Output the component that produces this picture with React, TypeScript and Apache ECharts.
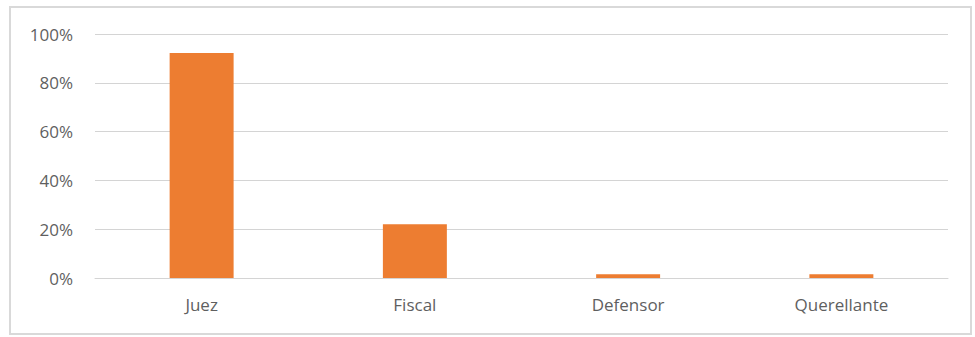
import React, { useEffect, useRef } from "react";
import * as echarts from "echarts";

const categories = ["Juez", "Fiscal", "Defensor", "Querellante"];
const values = [92.2, 22, 1.5, 1.5];
const yTicks = [0, 20, 40, 60, 80, 100];

export default function App() {
  const ref = useRef<HTMLDivElement>(null);
  useEffect(() => {
    if (!ref.current) return;
    const chart = echarts.init(ref.current, null, { renderer: "svg" });
    chart.setOption({
      animation: false,
      backgroundColor: "#ffffff",
      graphic: [
        {
          type: "rect",
          shape: { x: 10, y: 7, width: 961, height: 327 },
          style: { fill: "none", stroke: "#d9d9d9", lineWidth: 2 },
          silent: true,
        },
      ],
      grid: { left: 95, right: 27, top: 34, bottom: 59, containLabel: false },
      xAxis: {
        type: "category",
        data: categories,
        axisLine: { show: true, lineStyle: { color: "#d4d4d4", width: 1 } },
        axisTick: { show: false },
        axisLabel: {
          color: "#5f5f5f",
          fontFamily: "Open Sans",
          fontSize: 17,
          margin: 18,
        },
      },
      yAxis: {
        type: "value",
        min: yTicks[0],
        max: yTicks[yTicks.length - 1],
        interval: 20,
        axisLine: { show: false },
        axisTick: { show: false },
        splitLine: { lineStyle: { color: "#d4d4d4", width: 1 } },
        axisLabel: {
          color: "#5f5f5f",
          fontFamily: "Open Sans",
          fontSize: 17,
          margin: 22,
          formatter: (v: number) => `${v}%`,
        },
      },
      series: [
        {
          type: "bar",
          data: values,
          barWidth: "30%",
          itemStyle: { color: "#ED7D31" },
        },
      ],
    });
    return () => chart.dispose();
  }, []);
  return (
    <div
      ref={ref}
      style={{ position: "fixed", left: 0, top: 0, width: 975, height: 337 }}
    />
  );
}
